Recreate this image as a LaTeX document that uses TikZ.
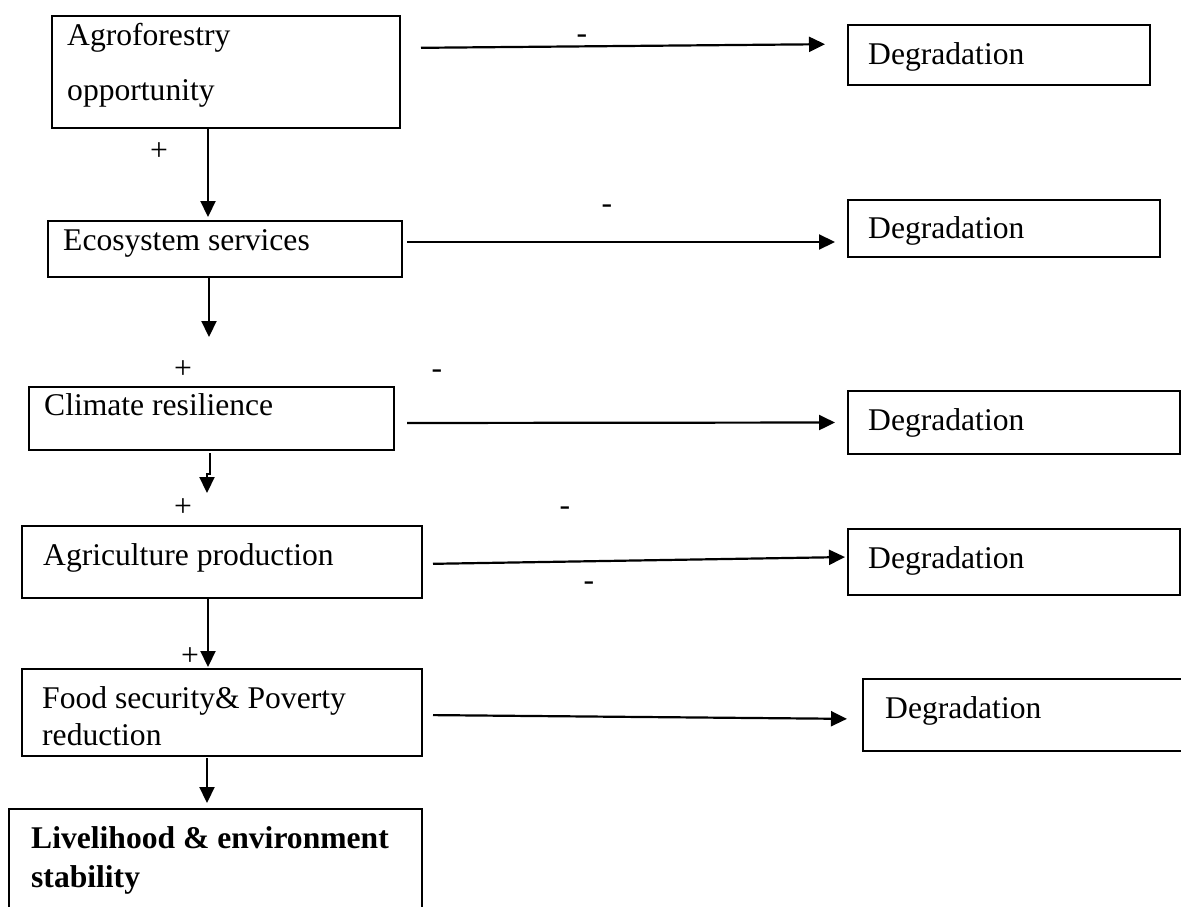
\documentclass[tikz,border=0pt]{standalone}
\usepackage{fontspec}
\setmainfont{Liberation Serif}
\usetikzlibrary{arrows.meta}

\begin{document}
\begin{tikzpicture}[x=1pt, y=-1pt, >={Triangle[length=16pt,width=15pt]},
		box/.style={draw, line width=1.8pt, inner sep=0pt, outer sep=0pt, anchor=north west},
		txt/.style={anchor=base west, inner sep=0pt, align=left, font=\fontsize{31.6}{37}\selectfont},
		sign/.style={inner sep=0pt, font=\fontsize{31.6}{37}\selectfont},
		arr/.style={->, line width=2.2pt}]
	\useasboundingbox (0,0) rectangle (1181,907);
	
	% === 左列：主链 ===
	\node[box, minimum width=348pt, minimum height=112pt] (agro) at (52,16) {};
	\node[box, minimum width=354pt, minimum height=56pt] (eco) at (48,221) {};
	\node[box, minimum width=365pt, minimum height=63pt] (clim) at (29,387) {};
	\node[box, minimum width=400pt, minimum height=72pt] (agri) at (22,526) {};
	\node[box, minimum width=400pt, minimum height=87pt] (food) at (22,669) {};
	\node[box, minimum width=413pt, minimum height=125pt] (live) at (9,809) {};
	
	\node[txt] (agro-t) at (67,100) {Agroforestry\\[18pt]opportunity};
	\node[txt] (eco-t) at (63,250) {Ecosystem services};
	\node[txt] (clim-t) at (44,415) {Climate resilience};
	\node[txt] (agri-t) at (43,565) {Agriculture production};
	\node[txt] (food-t) at (42,745) {Food security\& Poverty\\reduction};
	\node[txt] (live-t) at (31,887) {\bfseries Livelihood \& environment\\[2pt]\bfseries stability};
	
	% === 右列：退化 ===
	\node[box, minimum width=302pt, minimum height=60pt] (deg1) at (848,25) {};
	\node[box, minimum width=312pt, minimum height=57pt] (deg2) at (848,200) {};
	\node[box, minimum width=332pt, minimum height=63pt] (deg3) at (848,391) {};
	\node[box, minimum width=332pt, minimum height=66pt] (deg4) at (848,529) {};
	\node[box, minimum width=332pt, minimum height=72pt] (deg5) at (863,679) {};
	
	\node[txt] (deg1-t) at (868,65) {Degradation};
	\node[txt] (deg2-t) at (868,238) {Degradation};
	\node[txt] (deg3-t) at (868,430) {Degradation};
	\node[txt] (deg4-t) at (868,568) {Degradation};
	\node[txt] (deg5-t) at (885,718) {Degradation};
	
	% 向下的箭头
	\coordinate (e2) at (209,337);
	\coordinate (c3) at (207,493);
	\draw[arr, shorten >=4pt] ([xshift=-18pt]agro.south) -- ([xshift=-17pt]eco.north);
	\draw[arr] ([xshift=-16pt]eco.south) -- (e2);
	\draw[arr, shorten <=3pt] ([xshift=-1.5pt]clim.south) -- ++(0,24) -| (c3);
	\draw[arr, shorten >=2pt] ([xshift=-14pt]agri.south) -- ([xshift=-14pt]food.north);
	\draw[arr, shorten <=2pt, shorten >=6pt] ([xshift=-15pt]food.south) -- ([xshift=-8.5pt]live.north);
	
	% 向右的箭头
	\draw[arr, shorten <=21pt, shorten >=23pt] ([yshift=24pt]agro.east) -- ([yshift=11pt]deg1.west);
	\draw[arr, shorten <=5pt, shorten >=13pt] ([yshift=7pt]eco.east) -- ([yshift=-13.5pt]deg2.west);
	\draw[arr, shorten <=13pt, shorten >=13pt] ([yshift=-4.5pt]clim.east) -- (deg3.west);
	\draw[arr, shorten <=11pt, shorten >=3pt] ([yshift=-2pt]agri.east) -- ([yshift=5pt]deg4.west);
	\draw[arr, shorten <=11pt, shorten >=16pt] ([yshift=-2.5pt]food.east) -- ([yshift=-4pt]deg5.west);
	
	% 正负号
	\node[sign] (p1) at (159,152) {+};
	\node[sign] (p2) at (183,370) {+};
	\node[sign] (p3) at (183,508) {+};
	\node[sign] (p4) at (190,657) {+};
	\node[sign] (m1) at (582,39) {-};
	\node[sign] (m2) at (607,209) {-};
	\node[sign] (m3) at (437,374) {-};
	\node[sign] (m4) at (565,511) {-};
	\node[sign] (m5) at (589,586) {-};
\end{tikzpicture}
\end{document}
